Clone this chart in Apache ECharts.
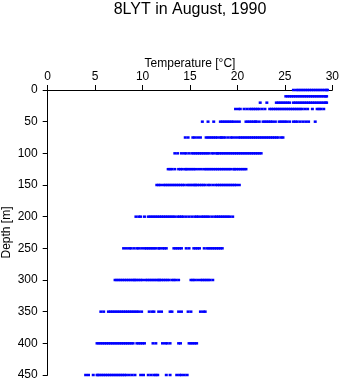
<!DOCTYPE html>
<html>
<head>
<meta charset="utf-8">
<script src="https://cdn.jsdelivr.net/npm/echarts@6/dist/echarts.min.js"></script>
<style>html,body{margin:0;padding:0;background:#fff;}#c{width:341px;height:384px;}</style>
</head>
<body>
<div id="c"></div>
<script>
var title = '8LYT in August, 1990';
var xName = 'Temperature [°C]';
var yName = 'Depth [m]';
var xTicks = [0, 5, 10, 15, 20, 25, 30];
var yTicks = [0, 50, 100, 150, 200, 250, 300, 350, 400, 450];

var depths = [0, 10, 20, 30, 50, 75, 100, 125, 150, 200, 250, 300, 350, 400, 450];

var t0 = [25.9, 26.2, 26.4, 26.6, 26.8, 27.0, 27.2, 27.4, 27.6, 27.8, 28.0, 28.2, 28.4, 28.6, 28.8, 29.0, 29.2, 29.4, 29.5];
var t10 = [25.1, 25.3, 25.5, 25.7, 25.9, 26.1, 26.3, 26.5, 26.7, 26.9, 27.1, 27.3, 27.5, 27.7, 27.9, 28.1, 28.3, 28.5, 28.7, 28.9, 29.1, 29.3, 29.4];
var t20 = [22.4, 23.1, 24.1, 24.3, 24.5, 24.7, 24.9, 25.1, 25.3, 25.5, 25.9, 26.1, 26.3, 26.5, 26.7, 26.9, 27.1, 27.3, 27.5, 27.7, 27.9, 28.1, 28.3, 28.5, 28.7, 28.9, 29.1, 29.3, 29.4];
var t30 = [19.8, 20.1, 20.3, 20.7, 21.0, 21.3, 21.5, 21.7, 21.9, 22.1, 22.3, 22.6, 22.9, 23.4, 23.6, 23.8, 24.0, 24.2, 24.4, 24.6, 24.8, 25.0, 25.2, 25.4, 25.6, 25.8, 26.0, 26.2, 26.4, 26.6, 26.8, 27.1, 27.4, 27.9, 28.4, 28.6, 28.8, 29.1];
var t50 = [16.3, 16.9, 17.5, 18.2, 18.4, 18.6, 18.8, 19.0, 19.2, 19.4, 19.6, 19.9, 20.2, 20.9, 21.1, 21.3, 21.5, 21.7, 21.9, 22.0, 22.3, 22.7, 22.9, 23.1, 23.3, 23.5, 23.7, 24.0, 24.4, 24.6, 24.8, 25.0, 25.2, 25.5, 25.9, 26.1, 26.3, 26.6, 26.9, 27.2, 27.5, 28.2];
var t75 = [14.5, 14.8, 15.3, 15.5, 15.8, 16.1, 16.7, 16.9, 17.1, 17.3, 17.5, 17.7, 17.9, 18.2, 18.3, 18.5, 18.7, 19.0, 19.3, 19.5, 19.8, 20.1, 20.3, 20.5, 20.7, 20.9, 21.1, 21.3, 21.5, 21.7, 21.9, 22.1, 22.3, 22.5, 22.7, 22.9, 23.1, 23.3, 23.5, 23.7, 23.9, 24.1, 24.3, 24.6, 24.8];
var t100 = [13.4, 13.7, 14.1, 14.4, 14.6, 14.9, 15.2, 15.4, 15.6, 15.8, 16.0, 16.2, 16.4, 16.6, 16.8, 17.0, 17.3, 17.5, 17.8, 17.9, 18.1, 18.3, 18.5, 18.7, 18.9, 19.1, 19.3, 19.5, 19.7, 19.9, 20.1, 20.3, 20.5, 20.7, 20.9, 21.1, 21.3, 21.5, 21.7, 21.9, 22.1, 22.3, 22.5];
var t125 = [12.7, 12.9, 13.1, 13.4, 13.8, 14.0, 14.2, 14.5, 14.6, 14.8, 15.0, 15.2, 15.4, 15.6, 15.9, 16.2, 16.5, 16.7, 16.9, 17.1, 17.3, 17.5, 17.7, 17.9, 18.1, 18.3, 18.5, 18.7, 18.9, 19.1, 19.3, 19.6, 19.7, 19.9, 20.1, 20.3, 20.5, 20.7, 20.9];
var t150 = [11.5, 11.7, 11.9, 12.2, 12.4, 12.6, 12.8, 13.0, 13.2, 13.4, 13.6, 13.8, 14.0, 14.2, 14.4, 14.7, 14.9, 15.1, 15.3, 15.5, 15.6, 15.8, 16.0, 16.2, 16.4, 16.6, 16.9, 17.1, 17.4, 17.7, 17.9, 18.1, 18.3, 18.5, 18.7, 18.9, 19.1, 19.3, 19.5, 19.7, 19.9, 20.2];
var t200 = [9.3, 9.6, 9.8, 10.2, 10.6, 10.8, 11.0, 11.2, 11.4, 11.6, 11.8, 12.0, 12.2, 12.4, 12.6, 12.8, 13.0, 13.2, 13.4, 13.7, 13.9, 14.1, 14.3, 14.6, 14.9, 15.2, 15.5, 15.7, 15.9, 16.2, 16.4, 16.6, 16.8, 17.0, 17.3, 17.6, 17.8, 18.0, 18.2, 18.4, 18.6, 18.8, 19.0, 19.2, 19.5];
var t250 = [8.0, 8.3, 8.6, 8.8, 9.1, 9.4, 9.6, 9.9, 10.2, 10.4, 10.6, 10.8, 11.0, 11.2, 11.4, 11.7, 11.8, 12.1, 12.3, 12.5, 13.3, 13.5, 13.7, 13.9, 14.1, 14.6, 14.9, 15.4, 15.6, 15.8, 16.0, 16.5, 16.8, 17.0, 17.2, 17.4, 17.6, 17.8, 18.0, 18.2, 18.4];
var t300 = [7.1, 7.3, 7.5, 7.7, 7.9, 8.1, 8.3, 8.5, 8.7, 8.9, 9.1, 9.2, 9.4, 9.6, 9.8, 10.0, 10.3, 10.5, 10.7, 10.9, 11.1, 11.3, 11.5, 11.7, 11.8, 12.0, 12.2, 12.4, 12.6, 12.8, 13.1, 13.3, 13.5, 13.8, 15.1, 15.3, 15.5, 15.8, 16.1, 16.3, 16.5, 16.7, 16.9, 17.1, 17.4];
var t350 = [5.6, 5.9, 6.4, 6.6, 6.8, 7.0, 7.2, 7.4, 7.6, 7.8, 8.0, 8.2, 8.4, 8.6, 8.8, 9.0, 9.2, 9.4, 9.6, 9.9, 10.7, 11.0, 11.2, 11.7, 12.0, 12.9, 13.1, 13.8, 14.1, 14.8, 15.1, 16.1, 16.4, 16.6];
var t400 = [5.2, 5.4, 5.6, 5.8, 6.0, 6.2, 6.4, 6.6, 6.8, 7.0, 7.2, 7.4, 7.6, 7.8, 8.0, 8.2, 8.4, 8.6, 8.8, 9.0, 9.4, 9.6, 9.8, 10.0, 10.2, 11.1, 11.4, 12.1, 12.4, 12.6, 12.9, 13.8, 14.0, 14.9, 15.1, 15.3, 15.5, 15.7];
var t450 = [4.0, 4.3, 4.8, 5.2, 5.3, 5.5, 5.7, 5.9, 6.1, 6.3, 6.5, 6.7, 6.9, 7.1, 7.3, 7.5, 7.7, 7.9, 8.1, 8.3, 8.6, 8.9, 9.2, 9.8, 10.1, 10.6, 10.9, 11.2, 11.4, 11.6, 12.5, 12.9, 13.6, 13.9, 14.1, 14.4, 14.7];

var temps = [t0, t10, t20, t30, t50, t75, t100, t125, t150, t200, t250, t300, t350, t400, t450];

var points = [];
depths.forEach(function (d, i) {
  temps[i].forEach(function (t) { points.push([t, d]); });
});

var FONT = 'Liberation Sans, Arial, Helvetica, sans-serif';
var chart = echarts.init(document.getElementById('c'), null, {renderer: 'canvas'});
chart.setOption({
  animation: false,
  backgroundColor: '#ffffff',
  title: {
    text: title,
    left: 190,
    top: 2,
    padding: 0,
    textAlign: 'center',
    textStyle: {fontFamily: FONT, fontSize: 16, fontWeight: 'normal', color: '#000'}
  },
  grid: {left: 47.7, right: 8.7, top: 90, bottom: 9, containLabel: false, outerBoundsMode: 'none'},
  xAxis: {
    type: 'value',
    position: 'top',
    min: xTicks[0],
    max: xTicks[xTicks.length - 1],
    interval: 5,
    name: xName,
    nameLocation: 'middle',
    nameGap: 20,
    nameMoveOverlap: false,
    nameTextStyle: {fontFamily: FONT, fontSize: 12, color: '#000'},
    axisLine: {show: true, onZero: false, lineStyle: {color: '#000', width: 1}},
    axisTick: {show: true, inside: false, length: 5, lineStyle: {color: '#000'}},
    axisLabel: {fontFamily: FONT, fontSize: 12, color: '#000', margin: 7},
    splitLine: {show: false}
  },
  yAxis: {
    type: 'value',
    inverse: true,
    min: yTicks[0],
    max: yTicks[yTicks.length - 1],
    interval: 50,
    name: yName,
    nameLocation: 'middle',
    nameGap: 35,
    nameRotate: 90,
    nameMoveOverlap: false,
    nameTextStyle: {fontFamily: FONT, fontSize: 12, color: '#000'},
    axisLine: {show: true, onZero: false, lineStyle: {color: '#000', width: 1}},
    axisTick: {show: true, inside: false, length: 5, lineStyle: {color: '#000'}},
    axisLabel: {fontFamily: FONT, fontSize: 12, color: '#000', margin: 10},
    splitLine: {show: false}
  },
  series: [{
    type: 'scatter',
    data: points,
    symbol: 'rect',
    symbolSize: [3, 2.5],
    itemStyle: {color: '#0000ff', opacity: 1},
    clip: false
  }]
});
</script>
</body>
</html>
